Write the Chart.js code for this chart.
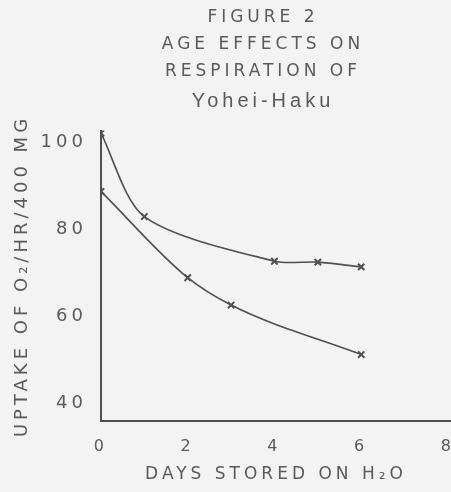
<!DOCTYPE html>
<html>
<head>
<meta charset="utf-8">
<script src="https://cdn.jsdelivr.net/npm/chart.js@4.4.1/dist/chart.umd.min.js"></script>
<style>
    html, body { margin: 0; padding: 0; background: #f3f3f3; }
    #wrap { width: 451px; height: 492px; }
</style>
</head>
<body>
<div id="wrap"><canvas id="ageChart"></canvas></div>
<script>
// data
var upperDays = [0, 1, 4, 5, 6];
var upperUptake = [102.2, 83, 72.7, 72.5, 71.4];
var lowerDays = [0, 2, 3, 6];
var lowerUptake = [88.8, 68.9, 62.6, 51.2];
var yTicks = [40, 60, 80, 100];
var xTicks = [0, 2, 4, 6, 8];

var ink = '#505050';
var textInk = '#5a5a5a';

function toPoints(xs, ys) {
    return xs.map(function (x, i) { return { x: x, y: ys[i] }; });
}

// the old lettering is widely spaced, so space all canvas text a little.
// the heading also sits a bit left of the plot centre in the scan
var oldLettering = {
    id: 'oldLettering',
    afterLayout: function (chart) {
        chart.boxes.forEach(function (box) {
            if (box.position === 'top' && box.options && box.options.text) {
                box.left -= 26;
            }
        });
    },
    beforeDraw: function (chart) {
        chart.ctx.letterSpacing = '4px';
    }
};

var ctx = document.getElementById('ageChart').getContext('2d');
var myChart = new Chart(ctx, {
    type: 'line',
    data: {
        datasets: [{
            label: 'upper',
            data: toPoints(upperDays, upperUptake),
            borderColor: ink,
            borderWidth: 1.6,
            tension: 0.28,
            pointStyle: 'crossRot',
            pointRadius: 4.5,
            pointBorderWidth: 2,
            pointBorderColor: ink,
            fill: false
        }, {
            label: 'lower',
            data: toPoints(lowerDays, lowerUptake),
            borderColor: ink,
            borderWidth: 1.6,
            cubicInterpolationMode: 'monotone',
            pointStyle: 'crossRot',
            pointRadius: 4.5,
            pointBorderWidth: 2,
            pointBorderColor: ink,
            fill: false
        }]
    },
    options: {
        responsive: true,
        maintainAspectRatio: false,
        animation: false,
        layout: {
            autoPadding: false,
            padding: { left: 12, right: 0, top: 0, bottom: 7 }
        },
        scales: {
            x: {
                type: 'linear',
                min: 0,
                max: 8.07,
                grid: { display: false },
                border: { display: true, color: ink, width: 2 },
                afterBuildTicks: function (axis) {
                    axis.ticks = xTicks.map(function (v) { return { value: v }; });
                },
                // the 8 runs off the right edge in the scan, so no room is kept for it
                afterFit: function (axis) {
                    axis.paddingRight = 0;
                },
                ticks: {
                    color: textInk,
                    font: { family: 'DejaVu Sans', size: 16 },
                    padding: 8
                },
                title: {
                    display: true,
                    text: 'DAYS STORED ON H\u2082O',
                    color: textInk,
                    font: { family: 'DejaVu Sans', size: 17 },
                    padding: { top: 0, bottom: 0 }
                }
            },
            y: {
                min: 35.8,
                max: 102.8,
                grid: { display: false },
                border: { display: true, color: ink, width: 2 },
                afterBuildTicks: function (axis) {
                    axis.ticks = yTicks.map(function (v) { return { value: v }; });
                },
                ticks: {
                    color: textInk,
                    font: { family: 'DejaVu Sans', size: 18 },
                    padding: 6
                },
                title: {
                    display: true,
                    text: 'UPTAKE OF O\u2082/HR/400 MG',
                    color: textInk,
                    font: { family: 'DejaVu Sans', size: 18 },
                    padding: { top: 0, bottom: 13 }
                }
            }
        },
        plugins: {
            legend: { display: false },
            tooltip: { enabled: false },
            title: {
                display: true,
                fullSize: false,
                text: ['FIGURE 2', 'AGE EFFECTS ON', 'RESPIRATION OF'],
                color: textInk,
                font: { family: 'DejaVu Sans', size: 17, weight: 'normal', lineHeight: 1.6 },
                padding: { top: 4, bottom: 0 }
            },
            subtitle: {
                display: true,
                fullSize: false,
                text: 'Yohei-Haku',
                color: textInk,
                font: { family: 'Liberation Sans', size: 20, lineHeight: 1.2 },
                padding: { top: 4, bottom: 17 }
            }
        }
    },
    plugins: [oldLettering]
});
</script>
</body>
</html>
